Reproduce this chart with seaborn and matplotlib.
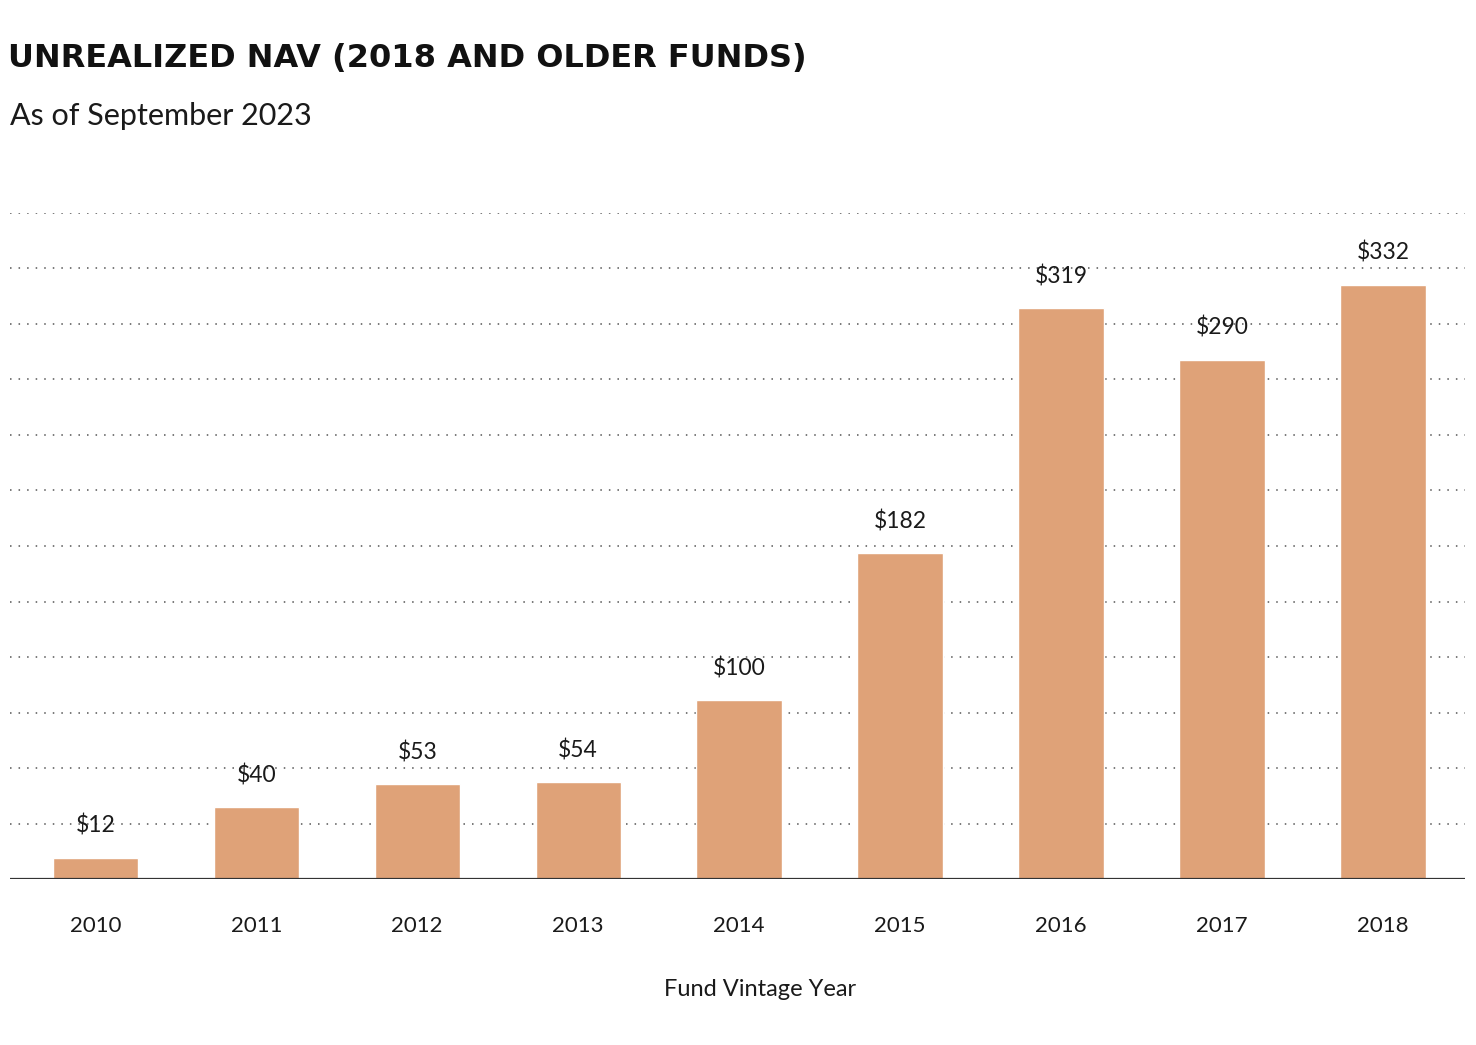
import matplotlib
matplotlib.use("Agg")
import matplotlib.pyplot as plt
import seaborn as sns
import pandas as pd

years = ["2010", "2011", "2012", "2013", "2014", "2015", "2016", "2017", "2018"]
nav = [12, 40, 53, 54, 100, 182, 319, 290, 332]
value_labels = ["$12", "$40", "$53", "$54", "$100", "$182", "$319", "$290", "$332"]
grid_values = [31 * k for k in range(1, 13)]

title = "UNREALIZED NAV (2018 AND OLDER FUNDS)"
subtitle = "As of September 2023"
xlabel = "Fund Vintage Year"

sns.set_theme(style="white")
plt.rcParams["font.family"] = ["Lato", "DejaVu Sans"]

df = pd.DataFrame({"year": years, "nav": nav})

fig = plt.figure(figsize=(14.76, 10.45), dpi=100)
ax = fig.add_axes([10 / 1476, (1045 - 879) / 1045, (1465 - 10) / 1476, (879 - 213) / 1045])

sns.barplot(data=df, x="year", y="nav", color="#DFA278", saturation=1, width=0.53, ax=ax, zorder=3)

for g in grid_values:
    ax.axhline(g, color="#555555", linewidth=1.1, linestyle=(0, (1, 4.6)), zorder=1)
ax.axhline(0, color="#333333", linewidth=1.6, zorder=4)

ax.set_ylim(0, 372)
ax.set_xlim(-0.53, 8.51)
ax.set_yticks([])
ax.set_ylabel("")
for s in ax.spines.values():
    s.set_visible(False)

ax.tick_params(axis="x", length=0, pad=27, labelsize=16, labelcolor="#1a1a1a")
ax.set_xlabel(xlabel, fontsize=17, color="#1a1a1a")
ax.xaxis.set_label_coords((760 - 10) / 1455, -(989 - 879) / 666, transform=ax.transAxes)
ax.xaxis.label.set_va("center")

ax.bar_label(ax.containers[0], labels=value_labels, padding=15, fontsize=16.5, color="#1a1a1a", zorder=5)

fig.text(8 / 1476, 1 - 59 / 1045, title, fontsize=23, fontweight="bold", color="#111111",
         family=["DejaVu Sans"], va="center", ha="left")
fig.text(10 / 1476, 1 - 116 / 1045, subtitle, fontsize=22, color="#1a1a1a", va="center", ha="left")

fig.savefig("out.png", dpi=100)
